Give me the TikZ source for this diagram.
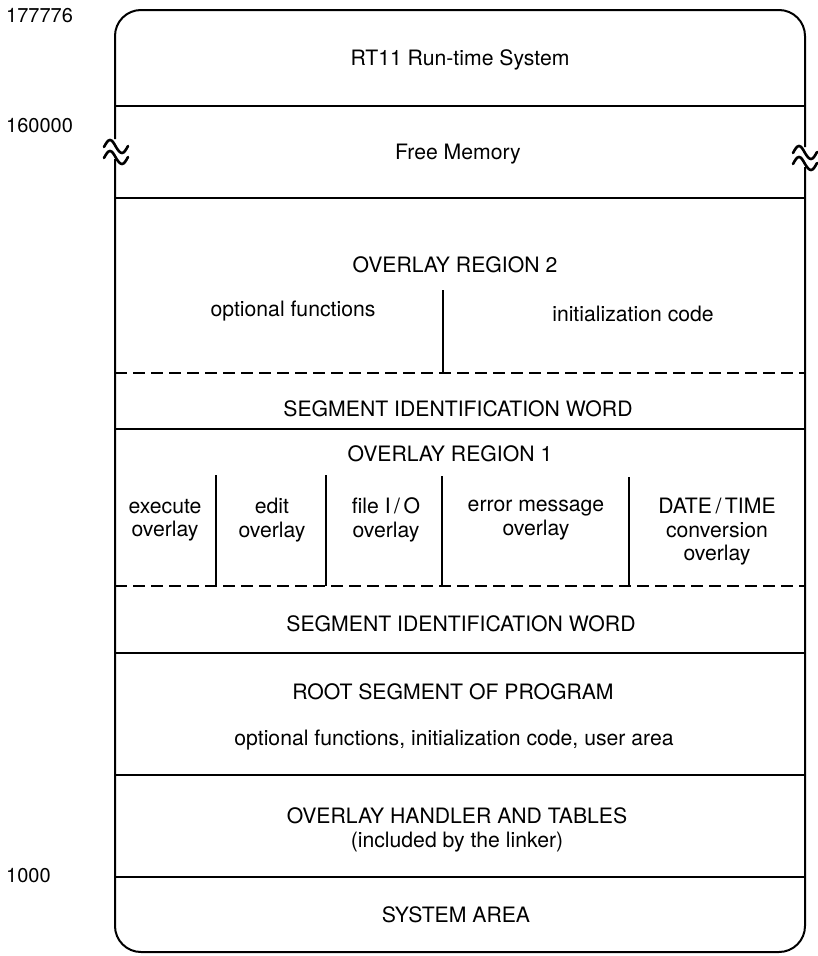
\documentclass[tikz,border=0pt]{standalone}
\usepackage{fontspec}
\setmainfont{TeX Gyre Heros}
\begin{document}
\begin{tikzpicture}[x=1pt,y=-1pt,
  lbl/.style={font=\fontsize{21.2}{23.5}\selectfont, align=center, inner sep=0pt},
  addr/.style={font=\fontsize{20}{22}\selectfont, anchor=west, inner sep=0pt},
  rule/.style={line width=1.6pt},
  dashrule/.style={line width=1.5pt, dash pattern=on 12pt off 6pt},
  edge/.style={line width=2pt, rounded corners=26pt},
  brk/.style={line width=2.6pt, line cap=round}]
\useasboundingbox (0,0) rectangle (818,956);
% outline
\draw[edge] (115,139) -- (115,10) -- (805,10) -- (805,147);
\draw[edge] (805,167) -- (805,952) -- (115,952) -- (115,159);
% break marks
\draw[brk] (104,147) sin (110,140) cos (116,147) sin (122,153) cos (128,146);
\draw[brk] (104,158) sin (110,151) cos (116,158) sin (122,164) cos (128,157);
\draw[brk] (793,153) sin (799,146) cos (805,153) sin (811,159) cos (817,152);
\draw[brk] (793,164) sin (799,157) cos (805,164) sin (811,170) cos (817,163);
% horizontal rules
\draw[rule] (115,106) -- (805,106);
\draw[rule] (115,198) -- (805,198);
\draw[dashrule] (115,373) -- (805,373);
\draw[rule] (115,429) -- (805,429);
\draw[dashrule] (115,586) -- (805,586);
\draw[rule] (115,653) -- (805,653);
\draw[rule] (115,775) -- (805,775);
\draw[rule] (115,877) -- (805,877);
% vertical dividers
\draw[rule] (443,290) -- (443,373);
\draw[rule] (216,475) -- (216,586);
\draw[rule] (326,475) -- (326,586);
\draw[rule] (442,476) -- (442,586);
\draw[rule] (629,477) -- (629,586);
% addresses
\node[addr] (a1) at (6,16) {177776};
\node[addr] (a2) at (6,126) {160000};
\node[addr] (a3) at (6,876) {1000};
% texts
\node[lbl] (rt) at (460,60) {RT11 Run-time System};
\node[lbl] (fm) at (458,154) {Free Memory};
\node[lbl] (or2) at (455,265) {OVERLAY REGION 2};
\node[lbl] (of) at (293,311) {optional functions};
\node[lbl] (ic) at (633,314) {initialization code};
\node[lbl] (siw1) at (458,409) {SEGMENT IDENTIFICATION WORD};
\node[lbl] (or1) at (450,454) {OVERLAY REGION 1};
\node[lbl] (ex) at (165,520) {execute\\overlay};
\node[lbl] (ed) at (272,520) {edit\\overlay};
\node[lbl] (fio) at (386,520) {file I\,/\,O\\overlay};
\node[lbl] (em) at (536,520) {error message\\overlay};
\node[lbl] (dt) at (717,532) {DATE\,/\,TIME\\conversion\\overlay};
\node[lbl] (siw2) at (461,624) {SEGMENT IDENTIFICATION WORD};
\node[lbl] (root) at (453,692) {ROOT SEGMENT OF PROGRAM};
\node[lbl] (ofu) at (454,740) {optional functions, initialization code, user area};
\node[lbl] (oh) at (457,830) {OVERLAY HANDLER AND TABLES\\(included by the linker)};
\node[lbl] (sa) at (456,915) {SYSTEM AREA};
\end{tikzpicture}
\end{document}
